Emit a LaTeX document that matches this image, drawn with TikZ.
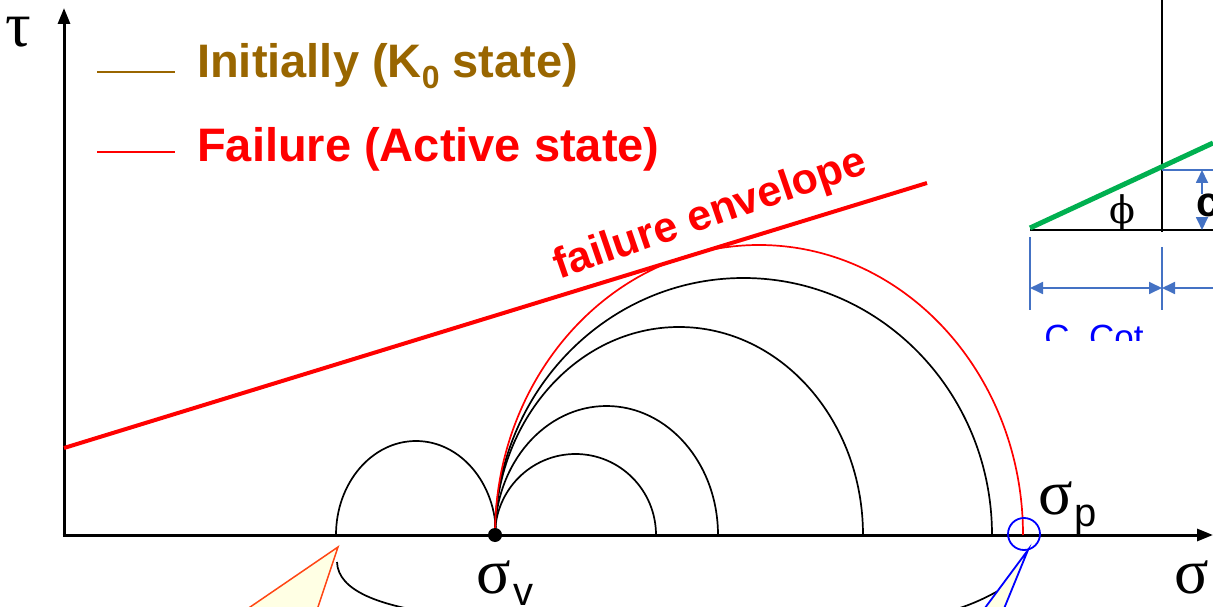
\documentclass[tikz,border=0pt]{standalone}
\usepackage{fontspec}
\setmainfont{Liberation Sans}
\newfontfamily\greekfont{Liberation Serif}
\newfontfamily\phifont{DejaVu Serif}
\usetikzlibrary{arrows.meta}
\definecolor{legendbrown}{RGB}{153,102,0}
\definecolor{envred}{RGB}{255,0,0}
\definecolor{dimblue}{RGB}{68,114,196}
\definecolor{envgreen}{RGB}{0,176,80}
\definecolor{calloutfill}{RGB}{255,255,228}
\definecolor{calloutorange}{RGB}{255,70,20}

\begin{document}
\begin{tikzpicture}[x=1pt, y=1pt,
    >={Triangle[length=16pt, width=12pt]},
    axis/.style={line width=3pt, ->},
    circ/.style={line width=1.7pt},
    legendtxt/.style={font=\fontsize{47}{50}\selectfont\bfseries, anchor=base west, inner sep=0pt},
    greek/.style={font=\fontsize{64}{64}\selectfont\greekfont, inner sep=0pt},
    subtxt/.style={font=\fontsize{40}{40}\selectfont, anchor=base west, inner sep=0pt},
    dim/.style={dimblue, line width=1.8pt},
    dimarrow/.style={dim, {Triangle[length=13pt, width=12pt]}-{Triangle[length=13pt, width=12pt]}},
]
    \useasboundingbox (0,0) rectangle (1213,606);
    \clip (0,0) rectangle (1213,606);

    % axes
    \draw[axis] (64,69.5) -- (64,598);
    \draw[axis] (62.5,71) -- (1213,71);
    \node[greek] (tau) at (18,574) {τ};
    \node[greek] (sig) at (1192,29) {σ};

    % legend
    \draw[legendbrown, line width=2pt] (97,534) -- (175,534);
    \node[legendtxt, text=legendbrown] (init) at (197,528) {Initially (K\raisebox{-0.22em}{\fontsize{32}{32}\selectfont 0} state)};
    \draw[envred, line width=2pt] (97,454) -- (175,454);
    \node[legendtxt, text=envred] (fail) at (197,444) {Failure (Active state)};

    % failure envelope
    \draw[envred, line width=4pt] (64,158) -- (927,423);
    \node[font=\fontsize{43}{43}\selectfont\bfseries, text=envred, rotate=19, anchor=base, inner sep=0pt] (envlbl) at (714,380) {failure envelope};

    % Mohr circles
    \draw[circ] (496,71) arc[start angle=0, end angle=180, x radius=80, y radius=94];
    \foreach \rx/\ry in {80.5/81, 111.5/129, 184/208, 248.5/257}
        \draw[circ] (495,71) arc[start angle=180, end angle=0, x radius=\rx, y radius=\ry];
    \draw[circ, envred] (495,71) arc[start angle=180, end angle=0, x radius=264, y radius=290];

    \node[circle, fill, inner sep=0pt, minimum size=14pt] (sv) at (495,71) {};
    \node[greek] (sigv) at (494,29) {σ};
    \node[subtxt] (vsub) at (513,1) {v};
    \node[greek] (sigp) at (1056,108) {σ};
    \node[subtxt] (psub) at (1074,80) {p};

    % brace ends
    \draw[circ] (337,44) .. controls (338,15) and (380,0) .. (440,-8);
    \draw[circ] (940,-8) .. controls (970,0) and (985,8) .. (998,15);

    % callouts
    \filldraw[draw=calloutorange, fill=calloutfill, line width=1.5pt] (338,59) -- (237,-10) -- (315,-10) -- cycle;
    \node[circle, draw=blue, line width=1.8pt, minimum size=32pt, inner sep=0pt] (pmark) at (1024,72) {};
    \filldraw[draw=blue, fill=calloutfill, line width=1.8pt] (1028,56) -- (979,-10) -- (1001,-10) -- cycle;

    % inset
    \begin{scope}
        \clip (1000,266) rectangle (1213,606);
        \draw[line width=2pt] (1162,606) -- (1162,374);
        \draw[line width=2pt] (1030,376) -- (1213,376);
        \draw[envgreen, line width=5pt] (1030,378) -- (1213,463);
        \node[font=\fontsize{38}{38}\selectfont\phifont, inner sep=0pt] (phi) at (1122,393) {ϕ};
        \draw[dim] (1162,436) -- (1213,436);
        \draw[dimarrow] (1202,436) -- (1202,376);
        \node[font=\fontsize{42}{42}\selectfont\bfseries, fill=white, inner sep=0pt, anchor=base west] (cc) at (1196,389) {c};
        \draw[dim] (1030,369) -- (1030,296);
        \draw[dim] (1162,359) -- (1162,296);
        \draw[dimarrow] (1030,318) -- (1162,318);
        \draw[dim, -{Triangle[length=13pt, width=12pt]}] (1230,318) -- (1162,318);
        \node[text=blue, font=\fontsize{35}{35}\selectfont, anchor=base] (ccot) at (1094,257) {C. Cot};
    \end{scope}
\end{tikzpicture}
\end{document}
